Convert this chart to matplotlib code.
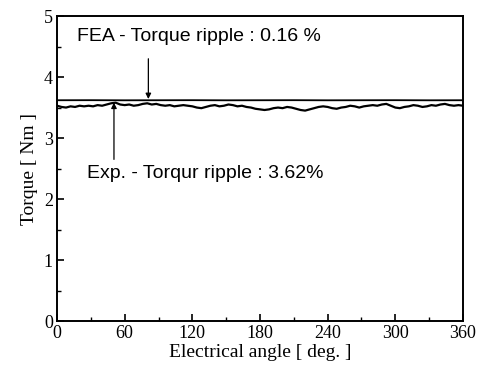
import matplotlib
matplotlib.use("Agg")
import matplotlib.pyplot as plt
from matplotlib.ticker import MultipleLocator

# Data
exp_angle = list(range(0, 361, 4))
exp_torque = [3.53, 3.51, 3.50, 3.52, 3.51, 3.53, 3.52, 3.53, 3.52, 3.54,
              3.53, 3.55, 3.57, 3.58, 3.55, 3.54, 3.55, 3.53, 3.54, 3.56,
              3.57, 3.55, 3.56, 3.54, 3.53, 3.54, 3.52, 3.53, 3.54, 3.53,
              3.52, 3.50, 3.49, 3.51, 3.53, 3.54, 3.52, 3.53, 3.55, 3.54,
              3.52, 3.53, 3.51, 3.50, 3.48, 3.47, 3.46, 3.47, 3.49, 3.50,
              3.49, 3.51, 3.50, 3.48, 3.46, 3.45, 3.47, 3.49, 3.51, 3.52,
              3.51, 3.49, 3.48, 3.50, 3.51, 3.53, 3.52, 3.50, 3.52, 3.53,
              3.54, 3.53, 3.55, 3.56, 3.53, 3.50, 3.49, 3.51, 3.52, 3.54,
              3.53, 3.51, 3.52, 3.54, 3.53, 3.55, 3.56, 3.54, 3.53, 3.54,
              3.53]
fea_angle = [0, 30, 60, 90, 120, 150, 180, 210, 240, 270, 300, 330, 360]
fea_torque = [3.62, 3.621, 3.619, 3.62, 3.621, 3.619, 3.62, 3.621, 3.619, 3.62, 3.621, 3.619, 3.62]

x_ticks = [0, 60, 120, 180, 240, 300, 360]
y_ticks = [0, 1, 2, 3, 4, 5]

fea_label = "FEA - Torque ripple : 0.16 %"
exp_label = "Exp. - Torqur ripple : 3.62%"

fig = plt.figure(figsize=(4.84, 3.74), dpi=100)
ax = fig.add_axes([0.1178, 0.1417, 0.8388, 0.8153])

ax.plot(fea_angle, fea_torque, color="black", lw=1.3)
ax.plot(exp_angle, exp_torque, color="black", lw=1.6)

ax.set_xlim(0, 360)
ax.set_ylim(0, 5)
ax.set_xticks(x_ticks)
ax.set_yticks(y_ticks)
ax.xaxis.set_minor_locator(MultipleLocator(30))
ax.yaxis.set_minor_locator(MultipleLocator(0.5))
ax.tick_params(which="major", direction="in", length=5, width=1.2,
               labelsize=13, pad=3)
ax.tick_params(which="minor", direction="in", length=3, width=1.0)
for lab in ax.get_xticklabels() + ax.get_yticklabels():
    lab.set_fontfamily("Liberation Serif")
for s in ax.spines.values():
    s.set_linewidth(1.4)

ax.set_xlabel("Electrical angle [ deg. ]", fontfamily="Liberation Serif", fontsize=14, labelpad=1)
ax.set_ylabel("Torque [ Nm ]", fontfamily="Liberation Serif", fontsize=14, labelpad=4)

ax.text(18, 4.66, fea_label, fontfamily="Liberation Sans", fontsize=14,
        ha="left", va="center")
ax.annotate("", xy=(81, 3.64), xytext=(81, 4.3),
            arrowprops=dict(arrowstyle="-|>", color="black", lw=0.9,
                            mutation_scale=8, shrinkA=0, shrinkB=0))
ax.annotate("", xy=(50.5, 3.58), xytext=(50.5, 2.65),
            arrowprops=dict(arrowstyle="-|>", color="black", lw=0.9,
                            mutation_scale=8, shrinkA=0, shrinkB=0))
ax.text(27, 2.42, exp_label, fontfamily="Liberation Sans", fontsize=14,
        ha="left", va="center")

fig.savefig("out.png", dpi=100)
